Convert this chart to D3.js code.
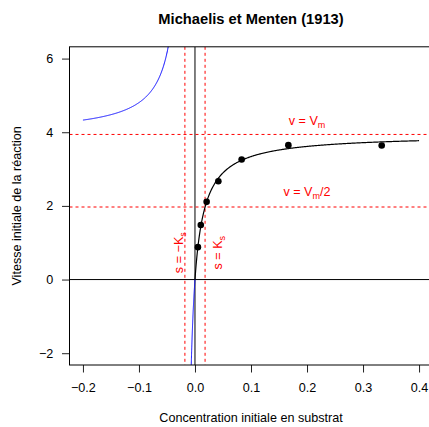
<!DOCTYPE html>
<html>
<head>
<meta charset="utf-8">
<script src="https://cdn.jsdelivr.net/npm/d3@7"></script>
<style>
  body { margin: 0; background: #fff; }
  svg { display: block; font-family: "Liberation Sans", Arial, Helvetica, sans-serif; }
</style>
</head>
<body>
<svg id="chart" width="429" height="427"></svg>
<script>
// Observed initial substrate concentrations and reaction rates
const substrate = [0.0052, 0.0104, 0.0208, 0.0417, 0.0833, 0.1667, 0.3333];
const velocity  = [0.88, 1.48, 2.11, 2.67, 3.26, 3.65, 3.64];

// Fitted Michaelis–Menten parameters
const Vm = 3.94;
const Ks = 0.018;

// Axis ticks
const xTicks = [-0.2, -0.1, 0.0, 0.1, 0.2, 0.3, 0.4];
const yTicks = [-2, 0, 2, 4, 6];

const title = "Michaelis et Menten (1913)";
const xLabel = "Concentration initiale en substrat";
const yLabel = "Vitesse initiale de la réaction";

const W = 429, H = 427;
const plot = { left: 69.5, right: 432.5, top: 46.8, bottom: 365 };

const x = d3.scaleLinear().domain([-0.224, 0.424]).range([plot.left, plot.right]);
const y = d3.scaleLinear().domain([-2.32, 6.32]).range([plot.bottom, plot.top]);

const svg = d3.select("#chart");

svg.append("defs").append("clipPath").attr("id", "plotClip")
  .append("rect")
  .attr("x", plot.left).attr("y", plot.top)
  .attr("width", plot.right - plot.left).attr("height", plot.bottom - plot.top);

const mm = s => Vm * s / (Ks + s);

// Title and axis titles
svg.append("text").attr("x", (plot.left + plot.right) / 2).attr("y", 24)
  .attr("text-anchor", "middle").attr("font-size", 14.7).attr("font-weight", "bold")
  .text(title);
svg.append("text").attr("x", (plot.left + plot.right) / 2).attr("y", 422)
  .attr("text-anchor", "middle").attr("font-size", 12.6).text(xLabel);
svg.append("text")
  .attr("transform", `translate(21,${(plot.top + plot.bottom) / 2}) rotate(-90)`)
  .attr("text-anchor", "middle").attr("font-size", 12.6).text(yLabel);

// Axes
const fmtX = d3.format(".1f");
const xAxis = svg.append("g").attr("transform", `translate(0,${plot.bottom})`)
  .call(d3.axisBottom(x).tickValues(xTicks).tickFormat(fmtX).tickSize(7.5).tickSizeOuter(0).tickPadding(10.5));
const yAxis = svg.append("g").attr("transform", `translate(${plot.left},0)`)
  .call(d3.axisLeft(y).tickValues(yTicks).tickFormat(d3.format("d")).tickSize(7.5).tickSizeOuter(0).tickPadding(8.7));
[xAxis, yAxis].forEach(g => {
  g.select(".domain").remove();
  g.selectAll("line").attr("stroke", "#222");
  g.selectAll("text").attr("font-size", 12.6).attr("fill", "#000")
    .attr("font-family", "Liberation Sans, Arial, sans-serif");
});

const inner = svg.append("g").attr("clip-path", "url(#plotClip)");

// Reference lines through the origin
inner.append("line").attr("x1", x(0)).attr("x2", x(0)).attr("y1", plot.top).attr("y2", plot.bottom)
  .attr("stroke", "#000").attr("stroke-width", 1);
inner.append("line").attr("x1", plot.left).attr("x2", plot.right).attr("y1", y(0)).attr("y2", y(0))
  .attr("stroke", "#000").attr("stroke-width", 1);

// Asymptote and half-saturation guides
const red = "#ff0000";
[Vm, Vm / 2].forEach(v => {
  inner.append("line").attr("x1", plot.left).attr("x2", plot.right).attr("y1", y(v)).attr("y2", y(v))
    .attr("stroke", red).attr("stroke-width", 1).attr("stroke-dasharray", "3,3");
});
[-Ks, Ks].forEach(s => {
  inner.append("line").attr("x1", x(s)).attr("x2", x(s)).attr("y1", plot.top).attr("y2", plot.bottom)
    .attr("stroke", red).attr("stroke-width", 1).attr("stroke-dasharray", "3,3");
});

// Hyperbola continued to negative concentrations (both branches)
const line = d3.line().x(d => x(d[0])).y(d => y(d[1]));
const n = 400;
const leftBranch = d3.range(n + 1).map(i => -0.2 + i * ((-Ks - 0.0003) - (-0.2)) / n).map(s => [s, mm(s)]);
const midBranch = d3.range(n + 1).map(i => (-Ks + 0.0006) + i * (0 - (-Ks + 0.0006)) / n).map(s => [s, mm(s)]);
const rightBranch = d3.range(n + 1).map(i => i * 0.4 / n).map(s => [s, mm(s)]);
[leftBranch, midBranch].forEach(b => {
  inner.append("path").datum(b).attr("d", line).attr("fill", "none")
    .attr("stroke", "#0000ff").attr("stroke-width", 1);
});
inner.append("path").datum(rightBranch).attr("d", line).attr("fill", "none")
  .attr("stroke", "#000").attr("stroke-width", 1.2);

// Measured points
inner.selectAll("circle.obs").data(substrate.map((s, i) => [s, velocity[i]])).join("circle")
  .attr("class", "obs").attr("cx", d => x(d[0])).attr("cy", d => y(d[1])).attr("r", 3.3)
  .attr("fill", "#000");

// Red annotations
const fs = 12.6, sub = 9;
const t1 = svg.append("text").attr("x", x(0.2)).attr("y", y(4.2)).attr("text-anchor", "middle")
  .attr("font-size", fs).attr("fill", red);
t1.append("tspan").text("v = V");
t1.append("tspan").attr("font-size", sub).attr("dy", 3).text("m");

const t2 = svg.append("text").attr("x", x(0.2)).attr("y", y(2.27)).attr("text-anchor", "middle")
  .attr("font-size", fs).attr("fill", red);
t2.append("tspan").text("v = V");
t2.append("tspan").attr("font-size", sub).attr("dy", 3).text("m");
t2.append("tspan").attr("dy", -3).text("/2");

const t3 = svg.append("text")
  .attr("transform", `translate(${x(-Ks) - 2},${y(0.73)}) rotate(-90)`)
  .attr("text-anchor", "middle").attr("font-size", fs).attr("fill", red);
t3.append("tspan").text("s = \u2212K");
t3.append("tspan").attr("font-size", sub).attr("dy", 3).text("s");

const t4 = svg.append("text")
  .attr("transform", `translate(${x(Ks) + 17},${y(0.73)}) rotate(-90)`)
  .attr("text-anchor", "middle").attr("font-size", fs).attr("fill", red);
t4.append("tspan").text("s = K");
t4.append("tspan").attr("font-size", sub).attr("dy", 3).text("s");

// Plot frame
svg.append("rect").attr("x", plot.left).attr("y", plot.top)
  .attr("width", plot.right - plot.left).attr("height", plot.bottom - plot.top)
  .attr("fill", "none").attr("stroke", "#000").attr("stroke-width", 1);
</script>
</body>
</html>
